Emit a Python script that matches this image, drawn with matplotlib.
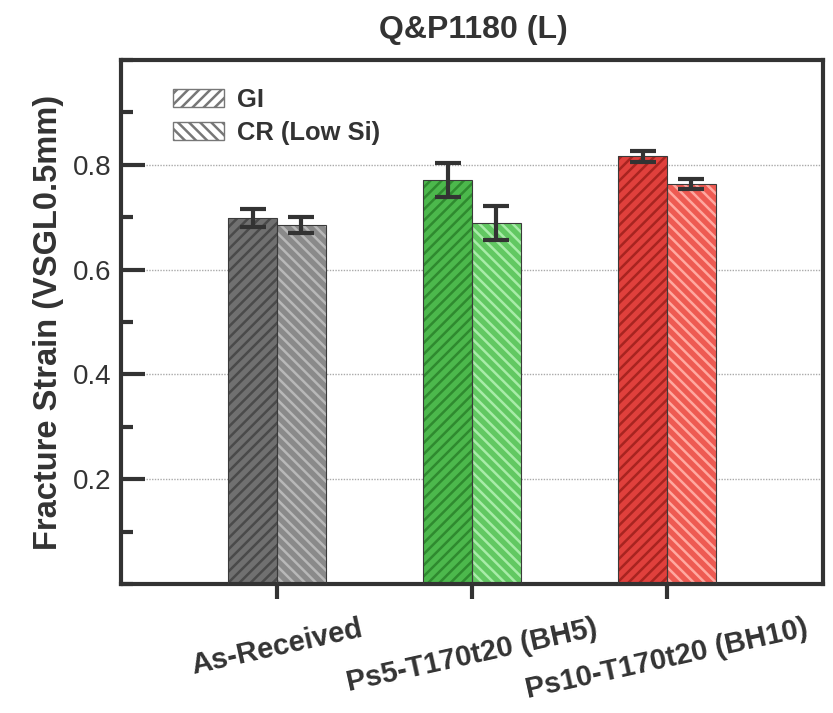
import matplotlib
matplotlib.use("Agg")
import matplotlib.pyplot as plt
import numpy as np
from matplotlib.patches import Patch
from matplotlib.ticker import MultipleLocator

plt.rcParams['font.family'] = ['Liberation Sans', 'DejaVu Sans']
plt.rcParams['hatch.linewidth'] = 1.8

categories = ["As-Received", "Ps5-T170t20 (BH5)", "Ps10-T170t20 (BH10)"]
series_names = ["GI", "CR (Low Si)"]
gi_values = [0.699, 0.771, 0.816]
gi_errors = [0.017, 0.032, 0.010]
cr_values = [0.685, 0.689, 0.763]
cr_errors = [0.016, 0.032, 0.010]

gi_colors = ["#707070", "#4cb84c", "#e0403c"]
gi_hatch_colors = ["#4a4a4a", "#2f8a2f", "#a82420"]
cr_colors = ["#8a8a8a", "#62c862", "#ee5a52"]
cr_hatch_colors = ["#b8b8b8", "#a8eca8", "#ffa8a0"]

dark = "#333333"

fig = plt.figure(figsize=(8.33, 7.13), dpi=100)
ax = fig.add_axes([121/833, 1-584/713, (823-121)/833, (584-60)/713])

x = np.arange(len(categories))
w = 0.25

ax.yaxis.grid(True, linestyle=(0, (1, 1)), color="#aaaaaa", linewidth=1.0, zorder=0)
ax.set_axisbelow(True)

for i in range(len(categories)):
    ax.bar(x[i]-w/2, gi_values[i], w, color=gi_colors[i], edgecolor=gi_hatch_colors[i],
           hatch="///", linewidth=0, zorder=2)
    ax.bar(x[i]-w/2, gi_values[i], w, color="none", edgecolor="#3a3a3a", linewidth=0.8, zorder=3)
    ax.bar(x[i]+w/2, cr_values[i], w, color=cr_colors[i], edgecolor=cr_hatch_colors[i],
           hatch="\\\\\\", linewidth=0, zorder=2)
    ax.bar(x[i]+w/2, cr_values[i], w, color="none", edgecolor="#3a3a3a", linewidth=0.8, zorder=3)

ax.errorbar(x-w/2, gi_values, yerr=gi_errors, fmt="none", ecolor=dark, elinewidth=3,
            capsize=9.5, capthick=3, zorder=4)
ax.errorbar(x+w/2, cr_values, yerr=cr_errors, fmt="none", ecolor=dark, elinewidth=3,
            capsize=9.5, capthick=3, zorder=4)

ax.set_xlim(-0.8, 2.8)
ax.set_ylim(0, 1.0)
ax.set_yticks([0.2, 0.4, 0.6, 0.8])
ax.yaxis.set_minor_locator(MultipleLocator(0.1))
ax.tick_params(axis='y', which='major', direction='in', length=17, width=3, color=dark,
               labelsize=20, labelcolor=dark, pad=7)
ax.tick_params(axis='y', which='minor', direction='in', length=8.5, width=3, color=dark)
ax.tick_params(axis='x', which='major', direction='out', length=11, width=3, color=dark)
ax.set_xticks(x)
ax.set_xticklabels(categories, rotation=12.5, ha='center', va='top', fontsize=21,
                   fontweight='bold', color=dark)
ax.tick_params(axis='x', pad=11)

for s in ax.spines.values():
    s.set_linewidth(3)
    s.set_color(dark)

ax.set_ylabel("Fracture Strain (VSGL0.5mm)", fontsize=23.5, fontweight='bold', color=dark,
              labelpad=6)
fig.text(473/833, 1-30/713, "Q&P1180 (L)", fontsize=23, fontweight='bold', color=dark,
         ha='center', va='center')

handles = [Patch(facecolor="white", edgecolor="#777777", hatch="///", linewidth=1),
           Patch(facecolor="white", edgecolor="#777777", hatch="\\\\\\", linewidth=1)]
leg = ax.legend(handles, series_names, loc='upper left', bbox_to_anchor=(0.041, 0.99),
                frameon=False, prop={'weight': 'bold', 'size': 18.4}, handlelength=2.0,
                handleheight=0.7, labelspacing=0.35, handletextpad=0.5, borderpad=0.4)
for t in leg.get_texts():
    t.set_color(dark)

fig.savefig("out.png", dpi=100, facecolor="white")
